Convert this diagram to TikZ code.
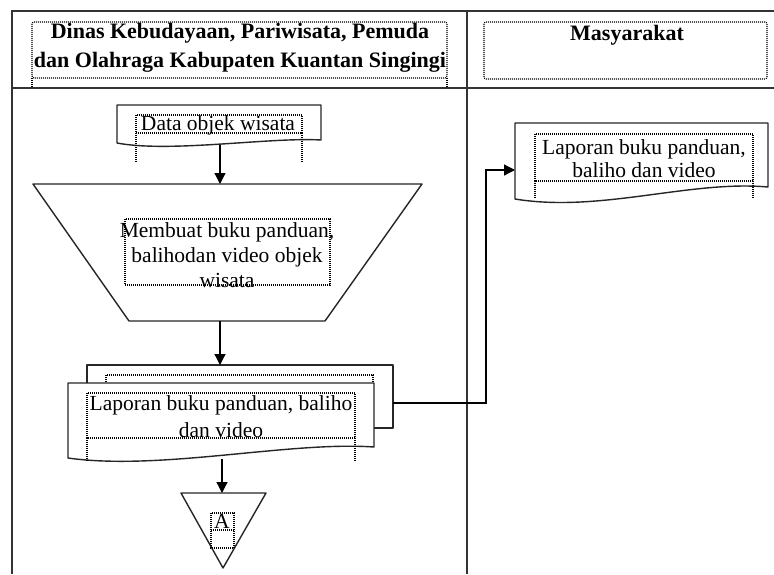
\documentclass[tikz,border=0pt]{standalone}
\usepackage{fontspec}
\setmainfont{Liberation Serif}
\usetikzlibrary{arrows.meta}
\begin{document}
\begin{tikzpicture}[x=1pt,y=-1pt,
  grid/.style={line width=1.6pt, draw=black!80},
  shp/.style={line width=1.4pt, draw=black!85, fill=white, line join=round},
  frm/.style={draw=black, line width=1.1pt, dash pattern=on 1pt off 1pt},
  txt/.style={inner sep=0pt, align=center, font=\fontsize{21.5}{27}\selectfont},
  hdr/.style={inner sep=0pt, align=center, font=\bfseries\fontsize{22}{29}\selectfont},
  conn/.style={line width=1.2pt, draw=black, -{Triangle[width=11pt,length=11pt]}},
]
\useasboundingbox (0,0) rectangle (774,574);
\fill[white] (0,0) rectangle (774,574);

% table
\draw[grid] (774,11) -- (12,11) -- (12,574);
\draw[grid] (12,88) -- (774,88);
\draw[grid] (467,11) -- (467,574);

% header frames
\draw[frm, rounded corners=2pt] (32,22) rectangle (447,78);
\draw[frm] (32,78) -- (32,88) (447,78) -- (447,88);
\draw[frm, rounded corners=2pt] (484,22) rectangle (767,79);
\node[hdr] (hL) at (240,48) {Dinas Kebudayaan, Pariwisata, Pemuda\\dan Olahraga Kabupaten Kuantan Singingi};
\node[hdr] (hR) at (627,35) {Masyarakat};

% document 1
\draw[shp] (117,143) -- (117,105) -- (321,105) -- (321,140)
  .. controls (270,137) and (170,153) .. (117,143) -- cycle;
\draw[frm] (136,115) rectangle (302,133);
\draw[frm] (136,133) -- (136,163) (302,133) -- (302,163);
\node[txt] (d1) at (218,125) {Data objek wisata};

% manual operation (trapezoid)
\draw[shp] (33,184) -- (422,184) -- (325,321) -- (129,321) -- cycle;
\draw[frm] (125,219) rectangle (330,285);
\node[txt, font=\fontsize{21.5}{25}\selectfont] (tz) at (227,255) {Membuat buku panduan,\\balihodan video objek\\wisata};

% multi-document
\draw[shp] (87,365) rectangle (393,428);
\draw[frm] (106,375) rectangle (373,420);
\draw[shp] (68,458) -- (68,383) -- (374,383) -- (374,447)
  .. controls (290,441) and (160,471) .. (68,458) -- cycle;
\draw[frm] (87,393) rectangle (355,438);
\draw[frm] (87,438) -- (87,462) (355,438) -- (355,462);
\node[txt] (md) at (221,416.5) {Laporan buku panduan, baliho\\dan video};

% off-page connector
\draw[shp] (181,493) -- (266,493) -- (223,568) -- cycle;
\draw[frm] (211,513) rectangle (234,548);
\draw[frm] (211,530) -- (234,530);
\node[txt] (tA) at (222,521) {A};

% document 3 (Masyarakat)
\draw[shp] (515,199) -- (515,123) -- (768,123) -- (768,187)
  .. controls (690,180) and (600,213) .. (515,199) -- cycle;
\draw[frm] (535,134) rectangle (753,181);
\draw[frm] (535,181) -- (535,198) (753,181) -- (753,198);
\node[txt, font=\fontsize{21.5}{23}\selectfont] (d3) at (644,158.5) {Laporan buku panduan,\\baliho dan video};

% connector coordinates
\coordinate (d1b) at (220,145);
\coordinate (tzt) at (220,184);
\coordinate (tzb) at (220,321);
\coordinate (mdt) at (220,365);
\coordinate (mdb) at (222,459);
\coordinate (trt) at (222,493);
\coordinate (mdE) at (393,403);
\coordinate (bend) at (486,170);
\coordinate (d3W) at (515,170);

\draw[conn] (d1b) -- (tzt);
\draw[conn] (tzb) -- (mdt);
\draw[conn] (mdb) -- (trt);
\draw[conn] (mdE) -| (bend) -- (d3W);
\end{tikzpicture}
\end{document}
